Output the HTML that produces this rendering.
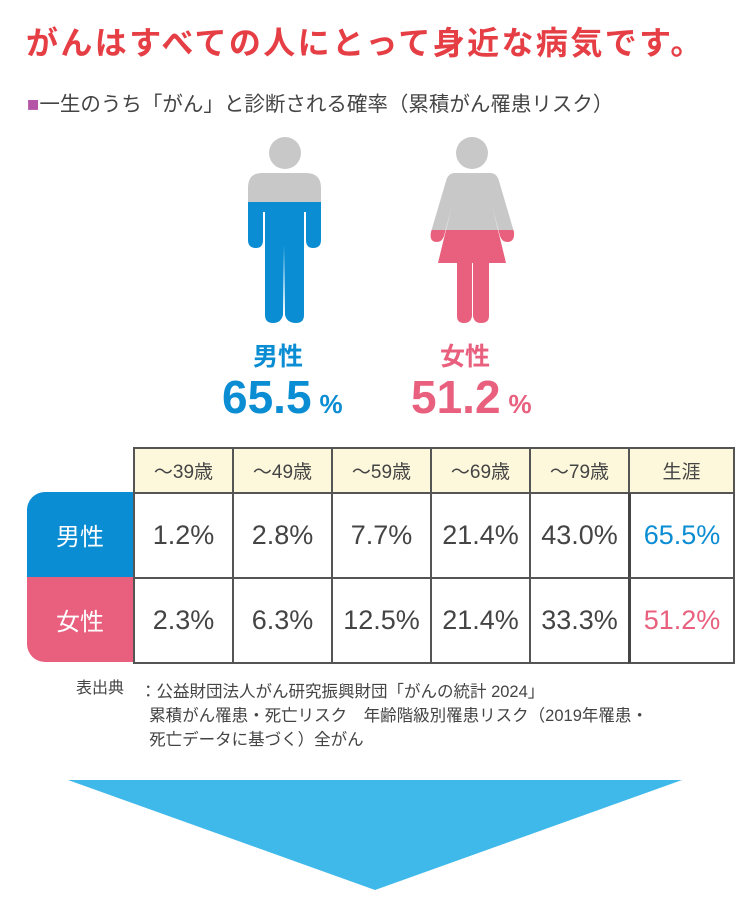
<!DOCTYPE html>
<html><head><meta charset="utf-8"><style>
body{margin:0;width:750px;height:900px;background:#fff;position:relative;overflow:hidden;font-family:"Liberation Sans","Noto Sans CJK JP",sans-serif;}
.a{position:absolute;white-space:nowrap;}
</style></head><body>
<div class="a" style="left:26px;top:18px;font-size:32px;font-weight:bold;color:#e63e45;letter-spacing:2.4px;">がんはすべての人にとって身近な病気です。</div>
<div class="a" style="left:27px;top:87px;font-size:20.5px;color:#444;"><span style="color:#b455a8">■</span>一生のうち「がん」と診断される確率（累積がん罹患リスク）</div>

<svg class="a" style="left:0;top:0" width="750" height="900">
 <defs>
  <clipPath id="mtop"><rect x="0" y="0" width="750" height="202"/></clipPath>
  <clipPath id="mbot"><rect x="0" y="202" width="750" height="200"/></clipPath>
  <clipPath id="wtop"><rect x="0" y="0" width="750" height="230"/></clipPath>
  <clipPath id="wbot"><rect x="0" y="230" width="750" height="200"/></clipPath>
  <g id="man">
   <path d="M262 173 H306 Q321 173 321 188 V240 Q321 248 313 248 Q306 248 306 240 V212 H304 V315 Q304 323 296 323 Q287 323 285 315 L284 245 L283 315 Q281 323 273 323 Q265 323 265 315 V212 H263 V240 Q263 248 256 248 Q248 248 248 240 V188 Q248 173 262 173Z"/>
  </g>
  <g id="woman">
   <path d="M455 173 H490 Q497 173 499 181 L514 232 Q515 242 507 242 Q502 242 500 236 L492 205 L506 263 H489 V316 Q489 323 481 323 Q474 323 473 316 V263 H472 V316 Q471 323 464 323 Q457 323 457 316 V263 H438 L452 205 L444 236 Q442 242 437 242 Q429 242 431 232 L446 181 Q448 173 455 173Z"/>
  </g>
 </defs>
 <g>
  <circle cx="285" cy="153" r="16" fill="#c8c8c8"/>
  <use href="#man" fill="#c8c8c8" clip-path="url(#mtop)"/>
  <use href="#man" fill="#0a8dd3" clip-path="url(#mbot)"/>
 </g>
 <g>
  <circle cx="472" cy="153" r="16" fill="#c8c8c8"/>
  <use href="#woman" fill="#c8c8c8" clip-path="url(#wtop)"/>
  <use href="#woman" fill="#e8607e" clip-path="url(#wbot)"/>
 </g>
 <polygon points="68,780 682,780 375,890" fill="#3fb8ea"/>
</svg>

<div class="a" style="left:253px;top:337px;font-size:25px;font-weight:bold;color:#0a8dd3;">男性</div>
<div class="a" style="left:222px;top:370px;font-size:46px;font-weight:bold;color:#0a8dd3;">65.5<span style="font-size:26px;margin-left:8px">%</span></div>
<div class="a" style="left:440px;top:337px;font-size:25px;font-weight:bold;color:#e8607e;">女性</div>
<div class="a" style="left:411px;top:370px;font-size:46px;font-weight:bold;color:#e8607e;">51.2<span style="font-size:26px;margin-left:8px">%</span></div>

<div id="tbl"></div>

<div class="a" style="left:76px;top:674px;font-size:16px;color:#444;">表出典</div>
<div class="a" style="left:140px;top:680px;font-size:16.5px;color:#444;line-height:24px;">：公益財団法人がん研究振興財団「がんの統計 2024」<br>&nbsp;&nbsp;累積がん罹患・死亡リスク　年齢階級別罹患リスク（2019年罹患・<br>&nbsp;&nbsp;死亡データに基づく）全がん</div>

<script>
const headers=["～39歳","～49歳","～59歳","～69歳","～79歳","生涯"];
const rowLabels=["男性","女性"];
const maleValues=["1.2%","2.8%","7.7%","21.4%","43.0%","65.5%"];
const femaleValues=["2.3%","6.3%","12.5%","21.4%","33.3%","51.2%"];
const colX=[133,232,331,430,529,628,733];
const rowY=[447,492,577,662];
const t=document.getElementById('tbl');
function box(x,y,w,h,css,txt){const d=document.createElement('div');d.className='a';d.style.cssText=`left:${x}px;top:${y}px;width:${w}px;height:${h}px;display:flex;align-items:center;justify-content:center;box-sizing:border-box;`+css;d.textContent=txt;t.appendChild(d);return d;}
headers.forEach((h,i)=>{const d=box(colX[i],rowY[0],colX[i+1]-colX[i]+2,rowY[1]-rowY[0]+2,`background:#fdf8dc;border:2px solid #555;font-size:19px;color:#444;`,h);

});
const colors=["#0a8dd3","#e8607e"];
[maleValues,femaleValues].forEach((vals,r)=>{
 const l=box(27,rowY[r+1],colX[0]-27,rowY[r+2]-rowY[r+1],`background:${colors[r]};color:#fff;font-size:24px;border-radius:${r==0?'18px 0 0 0':'0 0 0 18px'};`,rowLabels[r]);
 
 
 vals.forEach((v,i)=>{const d=box(colX[i],rowY[r+1],colX[i+1]-colX[i]+2,rowY[r+2]-rowY[r+1]+2,`background:#fff;border:2px solid #555;font-size:27px;color:${i==5?colors[r]:'#444'};`+(i==5?'border-left:3px solid #444;':''),v);
 
 });
});
</script>
</body></html>
